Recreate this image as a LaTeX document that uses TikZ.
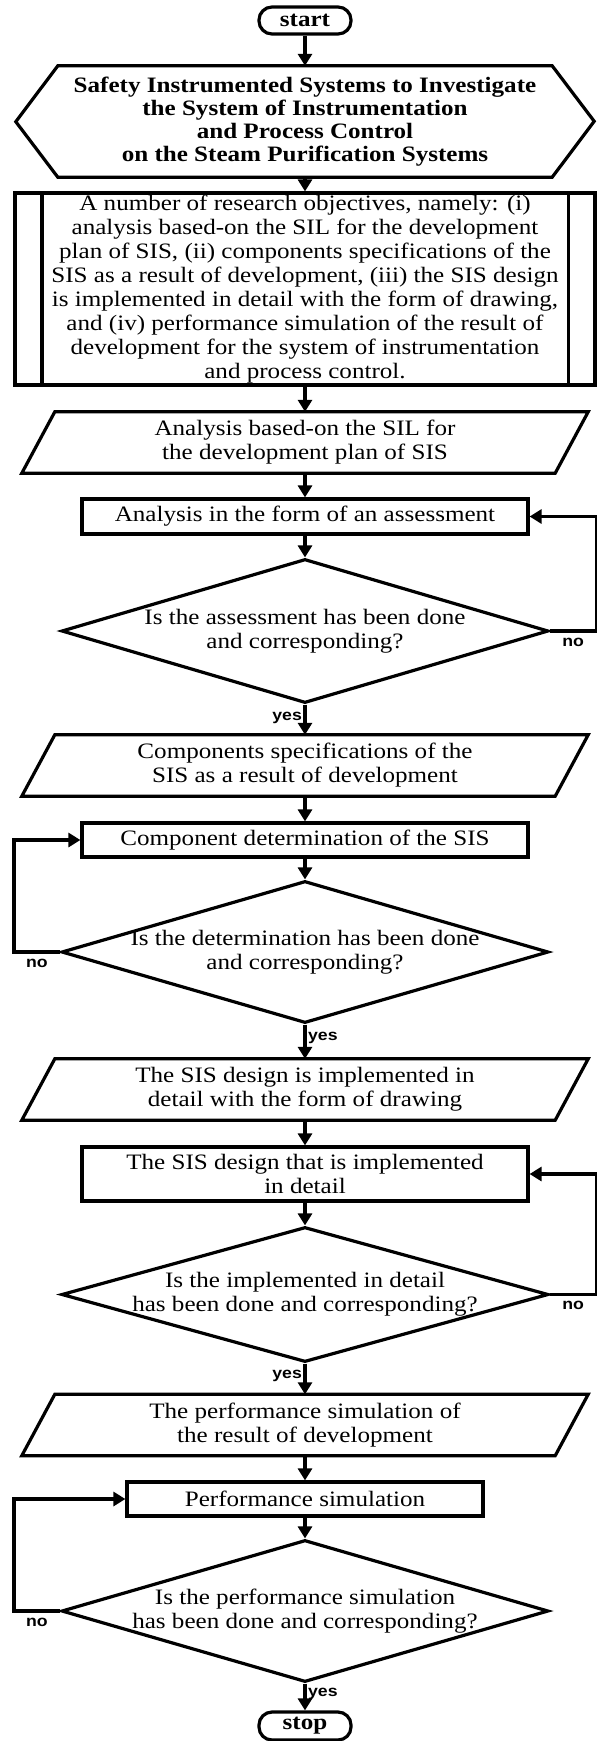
\documentclass[tikz,border=0pt]{standalone}
\usepackage{fontspec}
\setmainfont{Liberation Serif}[FakeStretch=1.14]
\newfontfamily\lsans{Liberation Sans}[FakeStretch=1.14]
\usetikzlibrary{shapes.geometric,arrows.meta,calc}
\newcommand\paraoutline[1]{\draw[bx] ([xshift=-33pt]#1.south west) -- (#1.north west) -- ([xshift=33pt]#1.north east) -- (#1.south east) -- cycle;}
\tikzset{
 bx/.style={draw, line width=3.2pt, line join=miter},
 arr/.style={line width=3.2pt, -{Triangle[length=12pt,width=14pt]}},
 txt/.style={font=\fontsize{22}{24}\selectfont, align=center},
 term/.style={bx, txt, font=\bfseries\fontsize{22}{24}\selectfont, rounded corners=13pt, minimum width=92pt, minimum height=27pt, inner sep=0pt},
 proc/.style={bx, txt, minimum width=446pt, inner sep=0pt},
 ghost/.style={txt, inner sep=0pt},
 para/.style={ghost, minimum width=500pt, minimum height=61pt},
 dia/.style={bx, diamond, minimum width=487pt, inner sep=0pt},
 lbl/.style={font=\lsans\bfseries\fontsize{15.5}{17}\selectfont, inner sep=1.5pt},
}
\begin{document}
\begin{tikzpicture}[x=1pt,y=1pt]
\fill[white] (0,0) rectangle (597,-1741);
\useasboundingbox (0,0) rectangle (597,-1741);

\node[term] (start) at (305,-20.5) {start};

\node[ghost, minimum width=494pt, minimum height=111pt, font=\bfseries\fontsize{22}{23}\selectfont] (hex) at (305,-121.5) {Safety Instrumented Systems to Investigate\\the System of Instrumentation\\and Process Control\\on the Steam Purification Systems};
\draw[bx] (hex.north west) -- (hex.north east) -- ++(42,-55.5) -- (hex.south east) -- (hex.south west) -- ++(-42,55.5) -- cycle;

\node[bx, txt, minimum width=580pt, minimum height=192pt, inner sep=0pt] (obj) at (305,-289) {A number of research objectives, namely: (i)\\analysis based-on the SIL for the development\\plan of SIS, (ii) components specifications of the\\SIS as a result of development, (iii) the SIS design\\is implemented in detail with the form of drawing,\\and (iv) performance simulation of the result of\\development for the system of instrumentation\\and process control.};
\draw[bx] ([xshift=28.5pt]obj.north west) -- ([xshift=28.5pt]obj.south west);
\draw[bx] ([xshift=-28.5pt]obj.north east) -- ([xshift=-28.5pt]obj.south east);

\node[para] (p1) at (305,-442.5) {Analysis based-on the SIL for\\the development plan of SIS};
\paraoutline{p1}
\node[proc, minimum height=35pt] (r1) at (305,-516.5) {Analysis in the form of an assessment};
\node[dia, minimum height=144pt] (d1) at (305,-631) {};
\node[txt] (d1t) at (d1.center) {Is the assessment has been done\\and corresponding?};

\node[para] (p2) at (305,-765.5) {Components specifications of the\\SIS as a result of development};
\paraoutline{p2}
\node[proc, minimum height=34pt] (r2) at (305,-840) {Component determination of the SIS};
\node[dia, minimum height=142pt] (d2) at (305,-952) {};
\node[txt] (d2t) at (d2.center) {Is the determination has been done\\and corresponding?};

\node[para] (p3) at (305,-1089.5) {The SIS design is implemented in\\detail with the form of drawing};
\paraoutline{p3}
\node[proc, minimum height=54pt] (r3) at (305,-1174) {The SIS design that is implemented\\in detail};
\node[dia, minimum height=135pt] (d3) at (305,-1294.5) {};
\node[txt] (d3t) at (d3.center) {Is the implemented in detail\\has been done and corresponding?};

\node[para] (p4) at (305,-1425) {The performance simulation of\\the result of development};
\paraoutline{p4}
\node[proc, minimum width=356pt, minimum height=34pt] (r4) at (305,-1499) {Performance simulation};
\node[dia, minimum height=142pt] (d4) at (305,-1611) {};
\node[txt] (d4t) at (d4.center) {Is the performance simulation\\has been done and corresponding?};

\node[term, minimum height=28pt] (stop) at (305,-1726) {stop};

\draw[arr] (start) -- (hex);
\draw[arr] (hex) -- (obj);
\draw[arr] (obj) -- (p1);
\draw[arr] (p1) -- (r1);
\draw[arr] (r1) -- (d1);
\draw[arr] (d1.south) -- node[lbl, pos=0.45, left]{yes} (p2.north);
\draw[arr] (d1.east) -- node[lbl, below, yshift=-4pt]{no} ++(46,0) |- (r1.east);
\draw[arr] (p2) -- (r2);
\draw[arr] (r2) -- (d2);
\draw[arr] (d2.south) -- node[lbl, pos=0.4, right]{yes} (p3.north);
\draw[arr] (d2.west) -- node[lbl, below, yshift=-4pt]{no} ++(-46,0) |- (r2.west);
\draw[arr] (p3) -- (r3);
\draw[arr] (r3) -- (d3);
\draw[arr] (d3.south) -- node[lbl, pos=0.4, left]{yes} (p4.north);
\draw[arr] (d3.east) -- node[lbl, below, yshift=-4pt]{no} ++(46,0) |- (r3.east);
\draw[arr] (p4) -- (r4);
\draw[arr] (r4) -- (d4);
\draw[arr] (d4.south) -- node[lbl, pos=0.37, right]{yes} (stop.north);
\draw[arr] (d4.west) -- node[lbl, below, yshift=-4pt]{no} ++(-46,0) |- (r4.west);
\end{tikzpicture}
\end{document}
